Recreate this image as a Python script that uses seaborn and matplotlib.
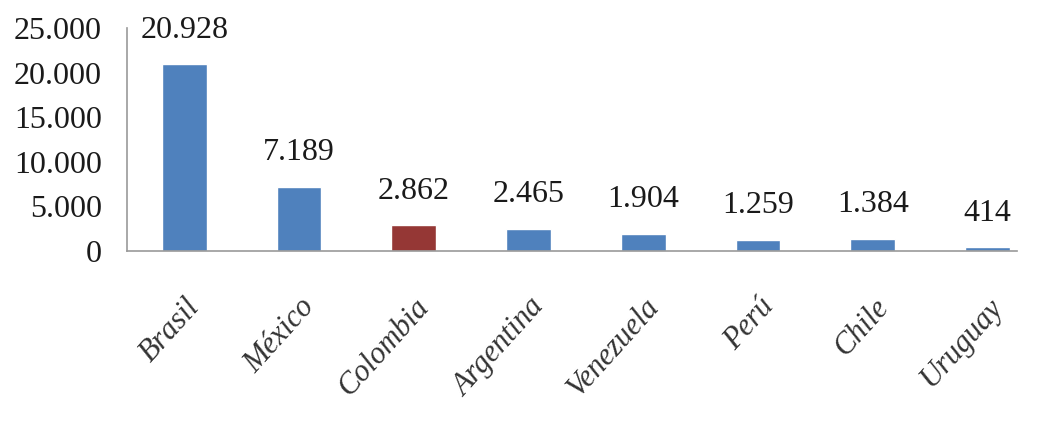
import numpy as np
import pandas as pd
import matplotlib
matplotlib.use("Agg")
import matplotlib.pyplot as plt
import seaborn as sns
from matplotlib.ticker import FuncFormatter, FixedLocator

# Data
paises = ["Brasil", "México", "Colombia", "Argentina", "Venezuela", "Perú", "Chile", "Uruguay"]
valores = [20928, 7189, 2862, 2465, 1904, 1259, 1384, 414]
colores = ["#4F81BD", "#4F81BD", "#953735", "#4F81BD", "#4F81BD", "#4F81BD", "#4F81BD", "#4F81BD"]


def miles(x, pos=None):
    return f"{int(x):,}".replace(",", ".")


sns.set_style("white")
plt.rcParams["font.family"] = ["Liberation Serif", "DejaVu Serif"]

df = pd.DataFrame({"pais": paises, "valor": valores})

fig = plt.figure(figsize=(10.52, 4.24), dpi=100)
ax = fig.add_axes([0.1207, 0.408, 0.8726, 0.526])

sns.barplot(data=df, x="pais", y="valor", hue="pais", palette=colores,
            width=0.39, legend=False, ax=ax, saturation=1)

# value labels above bars
for i, v in enumerate(valores):
    ax.text(i, v + 2200, miles(v), ha="center", va="bottom",
            fontsize=23, color="#1a1a1a")

ax.set_ylim(0, 25000)
ax.set_xlim(-0.5, len(paises) - 0.5)
ax.set_yticks(np.arange(0, 25001, 5000))
ax.yaxis.set_major_formatter(FuncFormatter(miles))
ax.set_xlabel("")
ax.set_ylabel("")

# tick marks between categories on x axis
ax.xaxis.set_minor_locator(FixedLocator(np.arange(-0.5, len(paises) - 1, 1.0)))
ax.tick_params(axis="x", which="major", length=0, pad=30)
ax.tick_params(axis="x", which="minor", length=12, width=1.2, color="#999999", direction="out")
ax.tick_params(axis="y", length=6, width=1.2, color="#999999", direction="out", pad=12,
               labelsize=23, labelcolor="#1a1a1a")

for lab in ax.get_xticklabels():
    lab.set_rotation(48)
    lab.set_ha("right")
    lab.set_rotation_mode("anchor")
    lab.set_fontstyle("italic")
    lab.set_fontsize(22)
    lab.set_color("#333333")

sns.despine(ax=ax)
for s in ["left", "bottom"]:
    ax.spines[s].set_color("#999999")
    ax.spines[s].set_linewidth(1.2)
ax.spines["bottom"].set_bounds(-0.5, 7.26)

fig.savefig("out.png", dpi=100)
